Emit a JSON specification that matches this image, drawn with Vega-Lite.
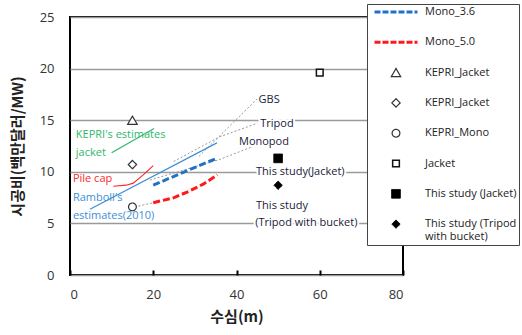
{
  "$schema": "https://vega.github.io/schema/vega-lite/v6.json",
  "width": 333,
  "height": 258,
  "autosize": {"type": "none"},
  "padding": {"left": 70, "top": 17, "right": 119, "bottom": 60},
  "background": "white",
  "config": {
    "view": {"stroke": "black", "strokeWidth": 2},
    "font": "Open Sans",
    "axis": {
      "labelFont": "Open Sans",
      "labelFontSize": 13,
      "labelColor": "#333",
      "titleFont": "Noto Sans CJK KR",
      "titleFontSize": 15,
      "titleFontWeight": "bold",
      "titleColor": "#222",
      "domain": false,
      "gridColor": "#9a9a9a",
      "gridWidth": 1.5
    }
  },
  "datasets": {
    "points": [
      {"series": "KEPRI_Jacket", "x": 15, "y": 15.0},
      {"series": "KEPRI_Jacket ", "x": 15, "y": 10.7},
      {"series": "KEPRI_Mono", "x": 15, "y": 6.6},
      {"series": "Jacket", "x": 60, "y": 19.6},
      {"series": "This study (Jacket)", "x": 50, "y": 11.3},
      {"series": "This study (Tripod with bucket)", "x": 50, "y": 8.7}
    ],
    "lines": [
      {"name": "Ramboll", "x": 4.8, "y": 6.37},
      {"name": "Ramboll", "x": 35.3, "y": 12.8},
      {"name": "Pile cap", "x": 10.4, "y": 8.6},
      {"name": "Pile cap", "x": 13.5, "y": 8.7},
      {"name": "Pile cap", "x": 15.2, "y": 8.9},
      {"name": "Pile cap", "x": 17.6, "y": 9.7},
      {"name": "Pile cap", "x": 20.0, "y": 10.6},
      {"name": "KEPRI", "x": 10.0, "y": 11.85},
      {"name": "KEPRI", "x": 20.2, "y": 14.2},
      {"name": "Mono_3.6", "x": 20.0, "y": 8.7},
      {"name": "Mono_3.6", "x": 27.2, "y": 9.95},
      {"name": "Mono_3.6", "x": 35.2, "y": 11.3},
      {"name": "Mono_5.0", "x": 20.0, "y": 7.0},
      {"name": "Mono_5.0", "x": 25.0, "y": 7.5},
      {"name": "Mono_5.0", "x": 28.5, "y": 8.1},
      {"name": "Mono_5.0", "x": 32.0, "y": 8.8},
      {"name": "Mono_5.0", "x": 35.4, "y": 9.7}
    ],
    "leaders": [
      {"name": "KM", "x": 15.5, "y": 6.6},
      {"name": "KM", "x": 20.0, "y": 7.0},
      {"name": "GBS", "x": 31.0, "y": 11.5},
      {"name": "GBS", "x": 45.3, "y": 17.2},
      {"name": "Tripod", "x": 24.9, "y": 11.0},
      {"name": "Tripod", "x": 36.0, "y": 13.4},
      {"name": "Tripod", "x": 45.0, "y": 14.7},
      {"name": "Monopod", "x": 19.2, "y": 9.2},
      {"name": "Monopod", "x": 36.0, "y": 11.2},
      {"name": "Monopod", "x": 45.5, "y": 12.7}
    ],
    "labels": [
      {"text": "KEPRI's estimates", "group": "green", "x": 1.4, "y": 13.6},
      {"text": "jacket", "group": "green", "x": 1.4, "y": 11.8},
      {"text": "Pile cap", "group": "red", "x": 0.7, "y": 9.3},
      {"text": "Ramboll's", "group": "blue", "x": 0.7, "y": 7.45},
      {"text": "estimates(2010)", "group": "blue", "x": 0.7, "y": 5.7},
      {"text": "GBS", "group": "dark", "x": 45.3, "y": 17.0},
      {"text": "Tripod", "group": "dark", "x": 45.7, "y": 14.6},
      {"text": "Monopod", "group": "dark", "x": 40.6, "y": 12.85},
      {"text": "This study(Jacket)", "group": "dark", "x": 44.7, "y": 10.0},
      {"text": "This study", "group": "dark", "x": 44.7, "y": 6.7},
      {"text": "(Tripod with bucket)", "group": "dark", "x": 44.5, "y": 5.0}
    ]
  },
  "encoding": {
    "x": {
      "field": "x",
      "type": "quantitative",
      "scale": {"domain": [0, 80], "nice": false},
      "axis": {"values": [0, 20, 40, 60, 80], "grid": false, "tickSize": -5, "tickColor": "black", "tickWidth": 2, "labelPadding": 18, "titlePadding": 8},
      "title": "수심(m)"
    },
    "y": {
      "field": "y",
      "type": "quantitative",
      "scale": {"domain": [0, 25], "nice": false},
      "axis": {"values": [0, 5, 10, 15, 20, 25], "ticks": false, "labelPadding": 16, "titlePadding": 14},
      "title": "시공비(백만달러/MW)"
    }
  },
  "layer": [
    {
      "data": {"name": "leaders"},
      "mark": {"type": "line", "color": "#9a9a9a", "strokeWidth": 1, "strokeDash": [2, 2]},
      "encoding": {"detail": {"field": "name", "type": "nominal"}}
    },
    {
      "data": {"name": "lines"},
      "transform": [{"filter": "datum.name == 'Ramboll'"}],
      "mark": {"type": "line", "color": "#3d8fd8", "strokeWidth": 1.2},
      "encoding": {}
    },
    {
      "data": {"name": "lines"},
      "transform": [{"filter": "datum.name == 'Pile cap'"}],
      "mark": {"type": "line", "color": "#ff2a2a", "strokeWidth": 1.2},
      "encoding": {}
    },
    {
      "data": {"name": "lines"},
      "transform": [{"filter": "datum.name == 'KEPRI'"}],
      "mark": {"type": "line", "color": "#2fb86a", "strokeWidth": 1.2},
      "encoding": {}
    },
    {
      "data": {"name": "lines"},
      "transform": [{"filter": "datum.name == 'Mono_3.6'"}],
      "mark": {"type": "line", "color": "#1f72c8", "strokeWidth": 3, "strokeDash": [7, 3]},
      "encoding": {}
    },
    {
      "data": {"name": "lines"},
      "transform": [{"filter": "datum.name == 'Mono_5.0'"}],
      "mark": {"type": "line", "color": "#ff1a1a", "strokeWidth": 3, "strokeDash": [7, 3]},
      "encoding": {}
    },
    {
      "data": {"name": "labels"},
      "transform": [{"filter": "datum.group == 'dark'"}],
      "mark": {"type": "text", "align": "left", "baseline": "middle", "fontSize": 11, "fill": "white", "stroke": "white", "strokeWidth": 4, "strokeJoin": "round"},
      "encoding": {"text": {"field": "text"}}
    },
    {
      "data": {"name": "labels"},
      "mark": {"type": "text", "align": "left", "baseline": "middle", "fontSize": 11},
      "encoding": {
        "text": {"field": "text"},
        "color": {
          "field": "group",
          "type": "nominal",
          "scale": {"domain": ["green", "red", "blue", "dark"], "range": ["#2fb86a", "#ff2a2a", "#3d8fd8", "#1a1a3a"]},
          "legend": null
        }
      }
    },
    {
      "data": {"name": "points"},
      "mark": {"type": "point", "filled": false, "opacity": 1},
      "encoding": {
        "shape": {
          "field": "series",
          "type": "nominal",
          "scale": {
            "domain": ["Mono_3.6", "Mono_5.0", "KEPRI_Jacket", "KEPRI_Jacket ", "KEPRI_Mono", "Jacket", "This study (Jacket)", "This study (Tripod with bucket)"],
            "range": ["stroke", "stroke", "triangle-up", "diamond", "circle", "square", "square", "diamond"]
          },
          "legend": {
            "title": null,
            "orient": "none",
            "legendX": 297,
            "legendY": -13,
            "padding": 2,
            "fillColor": "white",
            "strokeColor": "#444",
            "clipHeight": 12,
            "rowPadding": 18.3,
            "labelOffset": 6,
            "symbolOffset": 4,
            "labelFont": "Open Sans",
            "labelFontSize": 11,
            "labelColor": "#222",
            "labelLimit": 300,
            "labelExpr": "datum.label == 'This study (Tripod with bucket)' ? ['This study (Tripod', 'with bucket)'] : datum.label == 'This study (Jacket)' ? 'This study (Jacket)       ' : datum.label"
          }
        },
        "size": {
          "field": "series",
          "type": "nominal",
          "scale": {
            "type": "ordinal",
            "domain": ["Mono_3.6", "Mono_5.0", "KEPRI_Jacket", "KEPRI_Jacket ", "KEPRI_Mono", "Jacket", "This study (Jacket)", "This study (Tripod with bucket)"],
            "range": [1849, 1849, 90, 70, 60, 45, 75, 70]
          }
        },
        "fill": {
          "field": "series",
          "type": "nominal",
          "scale": {
            "domain": ["Mono_3.6", "Mono_5.0", "KEPRI_Jacket", "KEPRI_Jacket ", "KEPRI_Mono", "Jacket", "This study (Jacket)", "This study (Tripod with bucket)"],
            "range": ["transparent", "transparent", "white", "white", "white", "white", "black", "black"]
          }
        },
        "stroke": {
          "field": "series",
          "type": "nominal",
          "scale": {
            "domain": ["Mono_3.6", "Mono_5.0", "KEPRI_Jacket", "KEPRI_Jacket ", "KEPRI_Mono", "Jacket", "This study (Jacket)", "This study (Tripod with bucket)"],
            "range": ["#1f72c8", "#ff1a1a", "#333", "#333", "#333", "#111", "black", "black"]
          }
        },
        "strokeDash": {
          "field": "series",
          "type": "nominal",
          "scale": {
            "domain": ["Mono_3.6", "Mono_5.0", "KEPRI_Jacket", "KEPRI_Jacket ", "KEPRI_Mono", "Jacket", "This study (Jacket)", "This study (Tripod with bucket)"],
            "range": [[6, 2], [6, 2], [1, 0], [1, 0], [1, 0], [1, 0], [1, 0], [1, 0]]
          }
        },
        "strokeWidth": {
          "field": "series",
          "type": "nominal",
          "scale": {
            "type": "ordinal",
            "domain": ["Mono_3.6", "Mono_5.0", "KEPRI_Jacket", "KEPRI_Jacket ", "KEPRI_Mono", "Jacket", "This study (Jacket)", "This study (Tripod with bucket)"],
            "range": [3, 3, 1.2, 1.2, 1.2, 1.5, 1, 1]
          }
        }
      }
    }
  ]
}
